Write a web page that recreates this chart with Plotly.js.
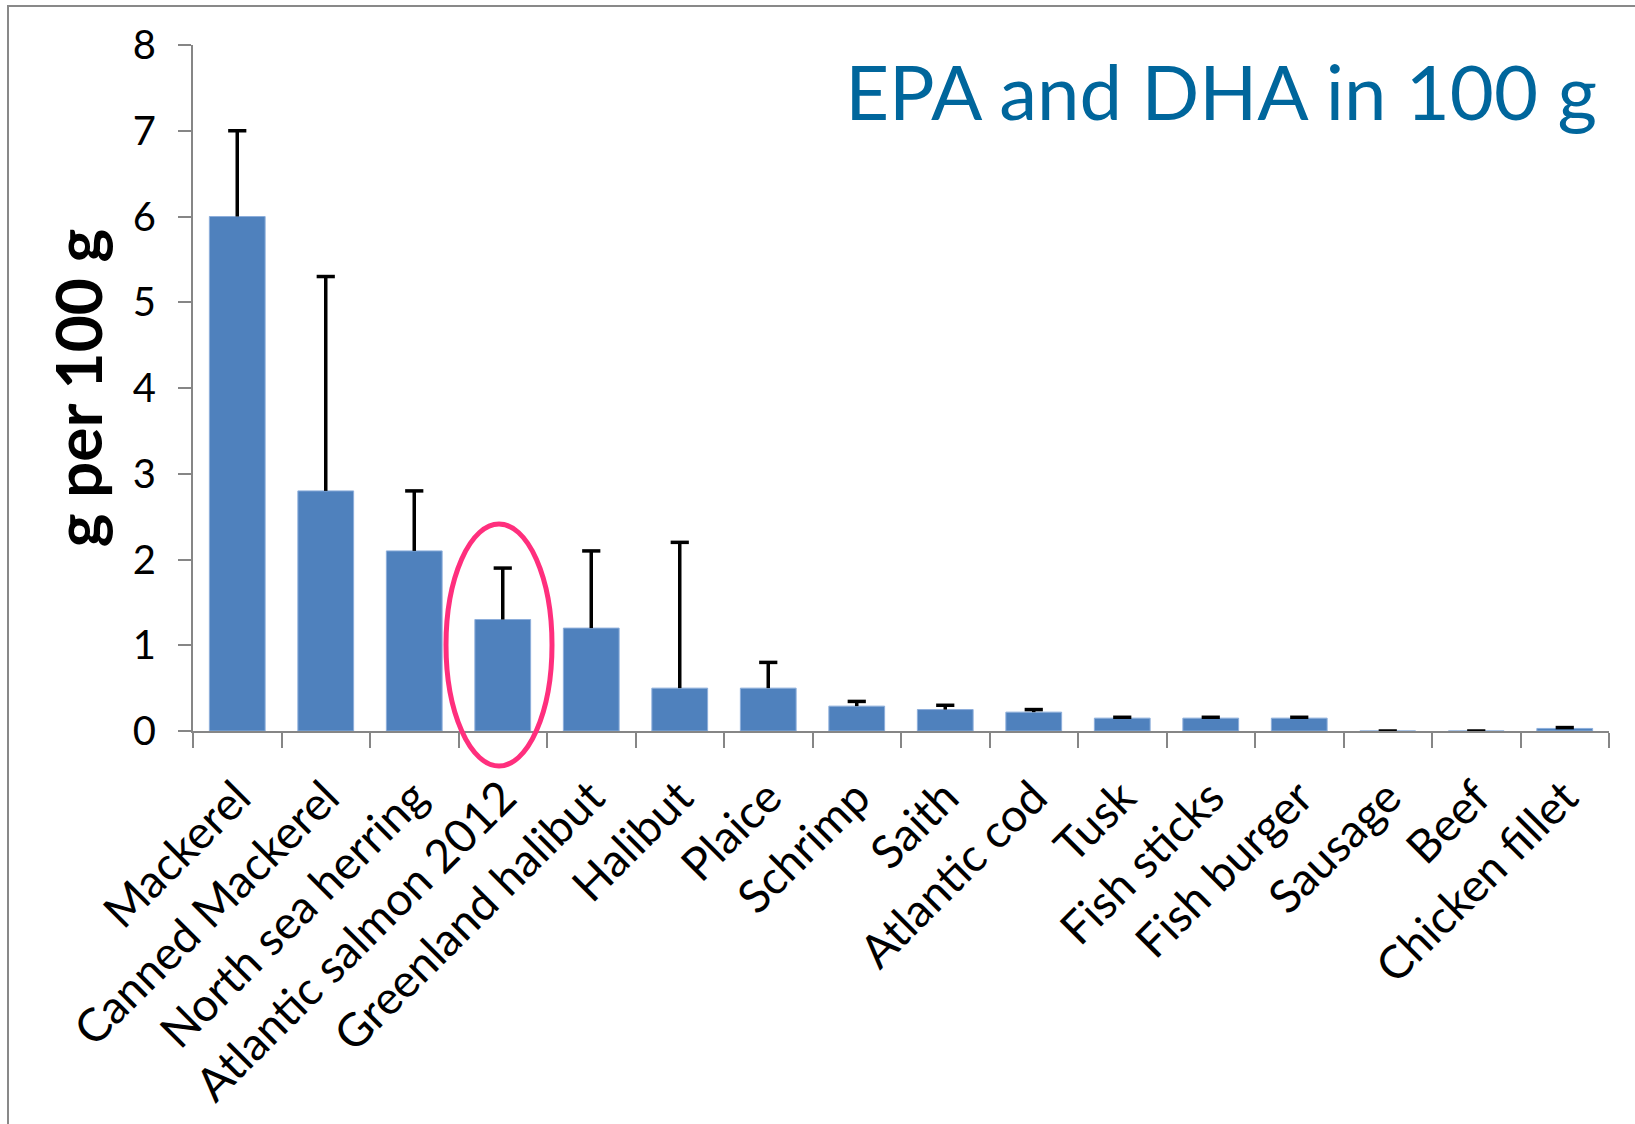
<!DOCTYPE html>
<html>
<head>
<meta charset="utf-8">
<script src="https://cdn.plot.ly/plotly-3.0.1.min.js"></script>
<style>
  html, body { margin: 0; padding: 0; background: #ffffff; }
  #chart { width: 1635px; height: 1124px; }
</style>
</head>
<body>
<div id="chart"></div>
<script>
// Categories (foods)
const categories = [
  "Mackerel", "Canned Mackerel", "North sea herring", "Atlantic salmon 2012",
  "Greenland halibut", "Halibut", "Plaice", "Schrimp", "Saith", "Atlantic cod",
  "Tusk", "Fish sticks", "Fish burger", "Sausage", "Beef", "Chicken fillet"
];
// EPA + DHA, g per 100 g (mean)
const epaDha = [6.0, 2.8, 2.1, 1.3, 1.2, 0.5, 0.5, 0.29, 0.25, 0.22, 0.15, 0.15, 0.15, 0.0, 0.0, 0.03];
// Upper error (plus only)
const errPlus = [1.0, 2.5, 0.7, 0.6, 0.9, 1.7, 0.3, 0.055, 0.05, 0.03, 0.01, 0.01, 0.01, 0.0, 0.0, 0.01];
const yTicks = [0, 1, 2, 3, 4, 5, 6, 7, 8];

const W = 1635, H = 1124;
const M = { l: 193, r: 26, t: 45, b: 393 };
const pw = W - M.l - M.r, ph = H - M.t - M.b;
const px = (x) => (x - M.l) / pw;
const py = (y) => (H - M.b - y) / ph;

const errTop = epaDha.map((v, i) => v + errPlus[i]);

const bars = {
  type: "bar",
  x: categories,
  y: epaDha,
  marker: { color: "#4F81BD", line: { color: "#8DAEDB", width: 1 } },
  hoverinfo: "x+y"
};
// Upper error stems (no caps), drawn from bar top upward
const stems = {
  type: "scatter", mode: "markers",
  x: categories, y: epaDha,
  marker: { size: 1, color: "rgba(0,0,0,0)" },
  error_y: {
    type: "data", symmetric: false, array: errPlus, arrayminus: errPlus.map(() => 0),
    color: "#000000", thickness: 3.5, width: 0
  },
  hoverinfo: "skip"
};
// Caps at the top of each error bar
const caps = {
  type: "scatter", mode: "markers",
  x: categories, y: errTop,
  marker: { symbol: "line-ew", size: 13, color: "#000000", line: { color: "#000000", width: 3.5 } },
  cliponaxis: false,
  hoverinfo: "skip"
};

const axisGrey = "#868686";
const layout = {
  width: W, height: H,
  margin: M,
  paper_bgcolor: "#ffffff",
  plot_bgcolor: "#ffffff",
  showlegend: false,
  bargap: 0.37,
  font: { family: "Lato, 'Open Sans', sans-serif", color: "#000000" },
  title: {
    text: "EPA and DHA in 100 g",
    font: { family: "Lato, sans-serif", size: 76, color: "#00669C" },
    xref: "container", yref: "container",
    x: 1597 / W, xanchor: "right",
    y: 1 - 93 / H, yanchor: "middle"
  },
  xaxis: {
    type: "category",
    range: [-0.5, categories.length - 0.5],
    showline: true, linecolor: axisGrey, linewidth: 2,
    ticks: "outside", tickson: "boundaries", ticklen: 15, tickcolor: axisGrey, tickwidth: 2,
    tickangle: -45,
    ticklabelstandoff: 19,
    tickfont: { family: "Lato, sans-serif", size: 46, color: "#000000" },
    showgrid: false, zeroline: false, fixedrange: true
  },
  yaxis: {
    range: [0, 8],
    tickvals: yTicks, ticktext: yTicks.map(String),
    showline: true, linecolor: axisGrey, linewidth: 2,
    ticks: "outside", ticklen: 13, tickcolor: axisGrey, tickwidth: 2,
    ticklabelstandoff: 14,
    tickfont: { family: "Lato, sans-serif", size: 40, color: "#000000" },
    showgrid: false, zeroline: false, fixedrange: true,
    title: {
      text: "<b>g per 100 g</b>",
      font: { family: "Lato, sans-serif", size: 64, color: "#000000" },
      standoff: 9
    }
  },
  shapes: [
    {
      type: "rect", xref: "paper", yref: "paper", layer: "below",
      x0: px(8), x1: px(W + 20), y0: py(H + 20), y1: py(6),
      line: { color: "#898989", width: 2 }, fillcolor: "rgba(0,0,0,0)"
    },
    {
      type: "circle", xref: "paper", yref: "paper", layer: "above",
      x0: px(446), x1: px(552), y0: py(766), y1: py(524),
      line: { color: "#FF2F7D", width: 5 }, fillcolor: "rgba(0,0,0,0)"
    }
  ]
};

Plotly.newPlot("chart", [bars, stems, caps], layout, { displayModeBar: false, staticPlot: true });
</script>
</body>
</html>
